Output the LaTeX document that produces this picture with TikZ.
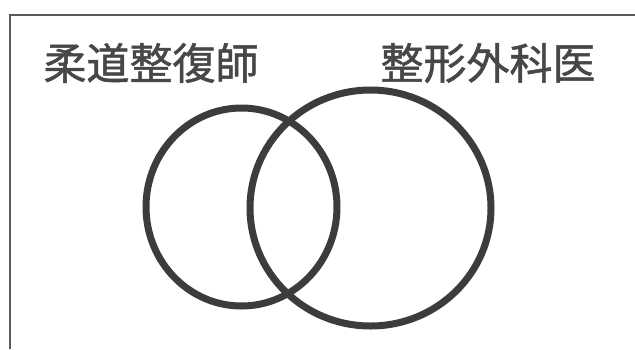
\documentclass[tikz,border=0pt]{standalone}
\usepackage{fontspec}
\newfontfamily\cjk[FakeBold=1.2]{Noto Sans CJK JP}
\usetikzlibrary{shapes.geometric}
\definecolor{ink}{HTML}{3C3C3C}
\definecolor{txt}{HTML}{474747}
\definecolor{frame}{HTML}{5A5A5A}
\tikzset{
  ring/.style={draw=ink, ellipse, line width=7pt, inner sep=0pt},
  label/.style={font=\cjk\fontsize{43}{48}\selectfont, text=txt, inner sep=0pt, anchor=center}
}
\begin{document}
\begin{tikzpicture}[x=1pt, y=-1pt]
\useasboundingbox (0,0) rectangle (635,349);
\fill[white] (0,0) rectangle (635,349);
\draw[frame, line width=1.8pt] (10,349) -- (10,15) -- (635,15);
\node[label] (judo) at (151,63) {柔道整復師};
\node[label] (ortho) at (488,63) {整形外科医};
\node[ring, minimum width=191pt, minimum height=198pt] (left) at (241.5,207) {};
\node[ring, minimum width=241pt, minimum height=236pt] (right) at (370.5,208) {};
\end{tikzpicture}
\end{document}
